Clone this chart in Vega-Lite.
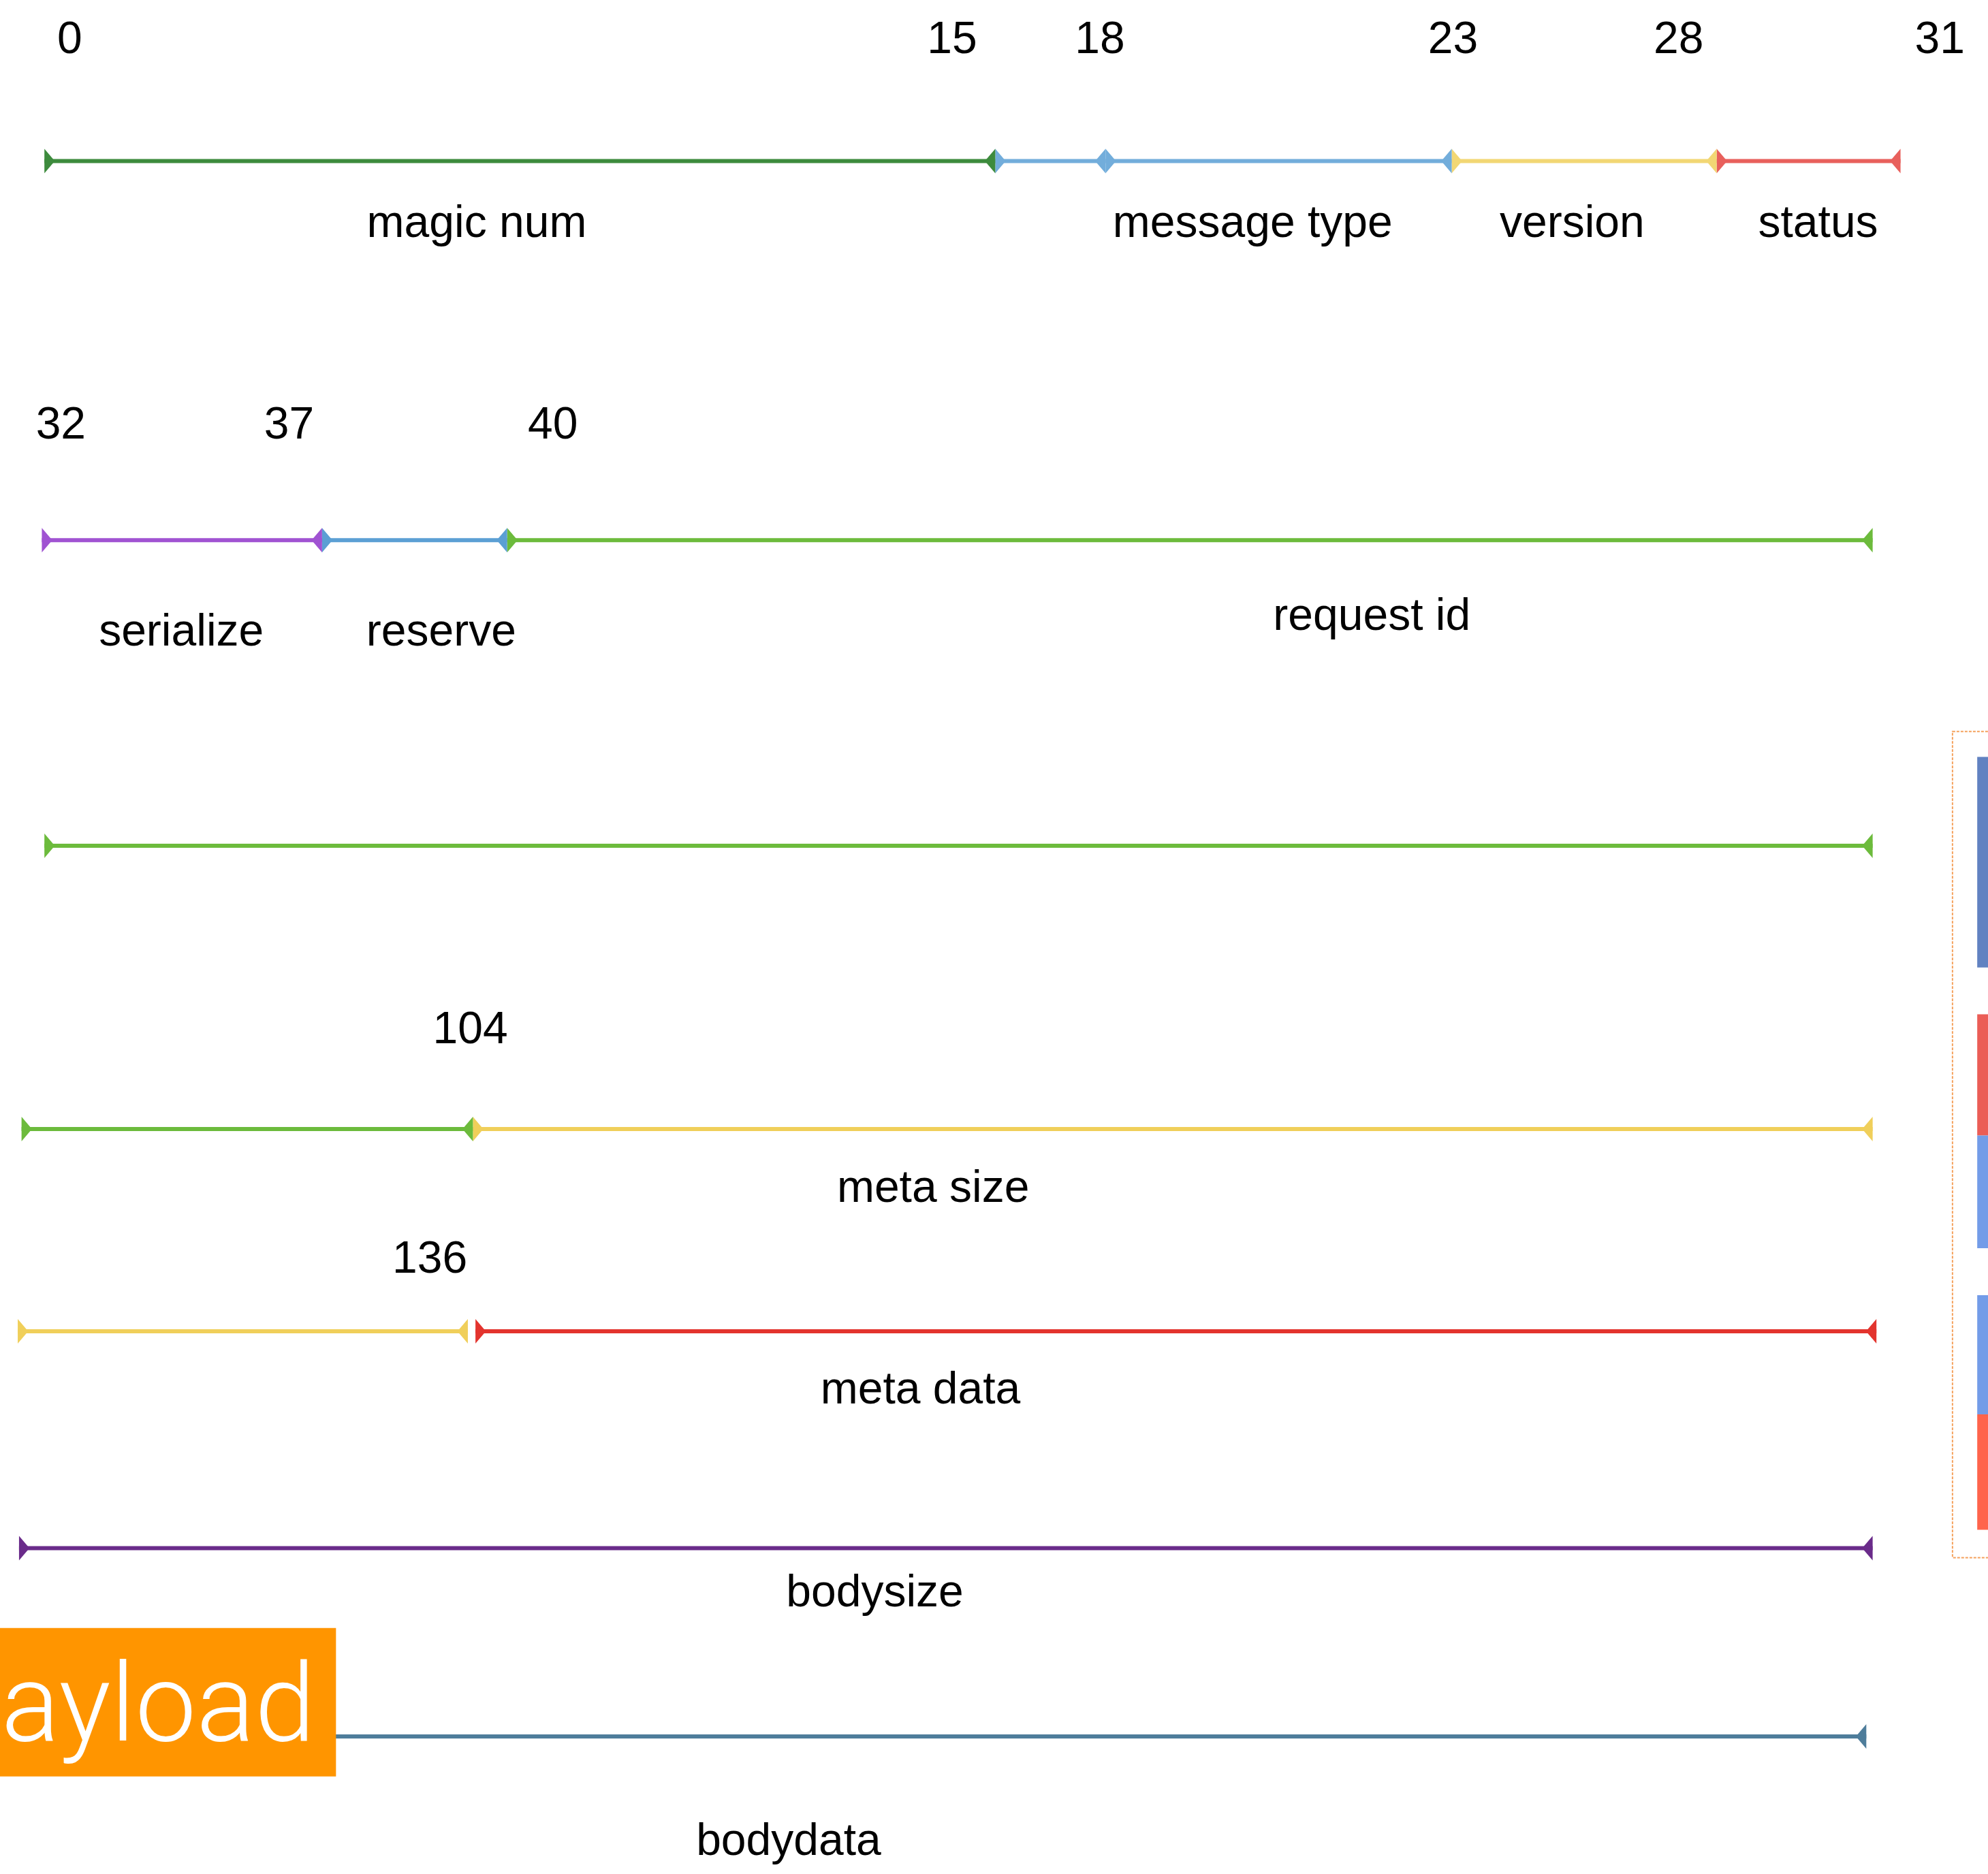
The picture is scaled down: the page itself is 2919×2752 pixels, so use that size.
{
  "$schema": "https://vega.github.io/schema/vega-lite/v6.json",
  "width": 2919,
  "height": 2752,
  "autosize": {"type": "fit", "contains": "padding"},
  "padding": 0,
  "background": "white",
  "config": {"view": {"stroke": null}, "axis": {"disable": true}},
  "encoding": {
    "x": {"field": "x", "type": "quantitative", "scale": {"domain": [0, 1568], "nice": false, "zero": false}, "axis": null},
    "y": {"field": "y", "type": "quantitative", "scale": {"domain": [0, 1478], "nice": false, "zero": false, "reverse": true}, "axis": null}
  },
  "resolve": {"scale": {"color": "independent"}},
  "datasets": {
    "segments": [
      {"y": 127, "part": "magic num", "x": 35, "x2": 785},
      {"y": 127, "part": "message type", "x": 785, "x2": 872},
      {"y": 127, "part": "message type", "x": 872, "x2": 1145},
      {"y": 127, "part": "version", "x": 1145, "x2": 1354},
      {"y": 127, "part": "status", "x": 1354, "x2": 1499},
      {"y": 426, "part": "serialize", "x": 33, "x2": 254},
      {"y": 426, "part": "reserve", "x": 254, "x2": 400},
      {"y": 426, "part": "request id", "x": 400, "x2": 1477},
      {"y": 667, "part": "request id", "x": 35, "x2": 1477},
      {"y": 890.5, "part": "request id", "x": 17, "x2": 373},
      {"y": 890.5, "part": "meta size", "x": 373, "x2": 1477},
      {"y": 1050, "part": "meta size", "x": 14, "x2": 369},
      {"y": 1050, "part": "meta data", "x": 375, "x2": 1480},
      {"y": 1221, "part": "bodysize", "x": 15, "x2": 1477},
      {"y": 1369.5, "part": "bodydata", "x": 200, "x2": 1472}
    ],
    "labels": [
      {"x": 55, "y": 42, "text": "0"},
      {"x": 751, "y": 42, "text": "15"},
      {"x": 867.5, "y": 42, "text": "18"},
      {"x": 1146, "y": 42, "text": "23"},
      {"x": 1324, "y": 42, "text": "28"},
      {"x": 1530, "y": 42, "text": "31"},
      {"x": 48, "y": 346, "text": "32"},
      {"x": 228, "y": 346, "text": "37"},
      {"x": 436, "y": 346, "text": "40"},
      {"x": 371, "y": 823, "text": "104"},
      {"x": 339, "y": 1004, "text": "136"},
      {"x": 376, "y": 187, "text": "magic num"},
      {"x": 988, "y": 187, "text": "message type"},
      {"x": 1240, "y": 187, "text": "version"},
      {"x": 1434, "y": 187, "text": "status"},
      {"x": 143, "y": 509, "text": "serialize"},
      {"x": 348, "y": 509, "text": "reserve"},
      {"x": 1082, "y": 497, "text": "request id"},
      {"x": 736, "y": 948, "text": "meta size"},
      {"x": 726, "y": 1107, "text": "meta data"},
      {"x": 690, "y": 1267, "text": "bodysize"},
      {"x": 622, "y": 1463, "text": "bodydata"}
    ],
    "panelFrame": [
      {"x": 1540, "x2": 1620, "y": 577, "y2": 1228.5}
    ],
    "panelBars": [
      {"x": 1559.5, "x2": 1620, "y": 597, "y2": 763, "tone": "blue"},
      {"x": 1559.5, "x2": 1620, "y": 800, "y2": 895.5, "tone": "red"},
      {"x": 1559.5, "x2": 1620, "y": 895.5, "y2": 984.5, "tone": "light blue"},
      {"x": 1559.5, "x2": 1620, "y": 1021.5, "y2": 1115.5, "tone": "light blue"},
      {"x": 1559.5, "x2": 1620, "y": 1115.5, "y2": 1206.5, "tone": "coral"}
    ],
    "badge": [
      {"x": 0, "x2": 265, "y": 1284, "y2": 1401}
    ],
    "badgeText": [
      {"x": 1, "y": 1373, "text": "ayload"}
    ]
  },
  "layer": [
    {
      "data": {"name": "panelFrame"},
      "mark": {"type": "rect", "fill": null, "fillOpacity": 0, "stroke": "#F5A25D", "strokeWidth": 2, "strokeDash": [4, 2], "clip": true},
      "encoding": {
        "x2": {"field": "x2"},
        "y2": {"field": "y2"}
      }
    },
    {
      "data": {"name": "panelBars"},
      "mark": {"type": "rect", "clip": true},
      "encoding": {
        "x2": {"field": "x2"},
        "y2": {"field": "y2"},
        "color": {"field": "tone", "type": "nominal", "legend": null,
          "scale": {"domain": ["blue", "red", "light blue", "coral"], "range": ["#6182C1", "#EB5D56", "#739CE8", "#FF644C"]}}
      }
    },
    {
      "data": {"name": "segments"},
      "mark": {"type": "rule", "strokeWidth": 6},
      "encoding": {
        "x2": {"field": "x2"},
        "color": {"field": "part", "type": "nominal", "legend": null,
          "scale": {"domain": ["magic num", "message type", "version", "status", "serialize", "reserve", "request id", "meta size", "meta data", "bodysize", "bodydata"],
                    "range": ["#3D8B3D", "#72ADDB", "#F2D774", "#E8605C", "#A053D2", "#5B9FD4", "#6CBB3C", "#F0CF5A", "#E3342E", "#6A2B8A", "#4E7D9B"]}}
      }
    },
    {
      "data": {"name": "segments"},
      "mark": {"type": "point", "shape": "M0,-1L0.85,0L0,1Z", "filled": true, "opacity": 1, "size": 1296, "strokeWidth": 0},
      "encoding": {
        "color": {"field": "part", "type": "nominal", "legend": null,
          "scale": {"domain": ["magic num", "message type", "version", "status", "serialize", "reserve", "request id", "meta size", "meta data", "bodysize", "bodydata"],
                    "range": ["#3D8B3D", "#72ADDB", "#F2D774", "#E8605C", "#A053D2", "#5B9FD4", "#6CBB3C", "#F0CF5A", "#E3342E", "#6A2B8A", "#4E7D9B"]}}
      }
    },
    {
      "data": {"name": "segments"},
      "mark": {"type": "point", "shape": "M0,-1L-0.85,0L0,1Z", "filled": true, "opacity": 1, "size": 1296, "strokeWidth": 0},
      "encoding": {
        "x": {"field": "x2", "type": "quantitative", "scale": {"domain": [0, 1568], "nice": false, "zero": false}, "axis": null},
        "color": {"field": "part", "type": "nominal", "legend": null,
          "scale": {"domain": ["magic num", "message type", "version", "status", "serialize", "reserve", "request id", "meta size", "meta data", "bodysize", "bodydata"],
                    "range": ["#3D8B3D", "#72ADDB", "#F2D774", "#E8605C", "#A053D2", "#5B9FD4", "#6CBB3C", "#F0CF5A", "#E3342E", "#6A2B8A", "#4E7D9B"]}}
      }
    },
    {
      "data": {"name": "labels"},
      "mark": {"type": "text", "align": "center", "baseline": "alphabetic", "fontSize": 66, "font": "Liberation Sans", "color": "#000000"},
      "encoding": {
        "text": {"field": "text", "type": "nominal"}
      }
    },
    {
      "data": {"name": "badge"},
      "mark": {"type": "rect", "color": "#FF9500"},
      "encoding": {
        "x2": {"field": "x2"},
        "y2": {"field": "y2"}
      }
    },
    {
      "data": {"name": "badgeText"},
      "mark": {"type": "text", "align": "left", "baseline": "alphabetic", "fontSize": 160, "font": "Roboto", "fontWeight": 300, "color": "#FFFFFF"},
      "encoding": {
        "text": {"field": "text", "type": "nominal"}
      }
    }
  ]
}
